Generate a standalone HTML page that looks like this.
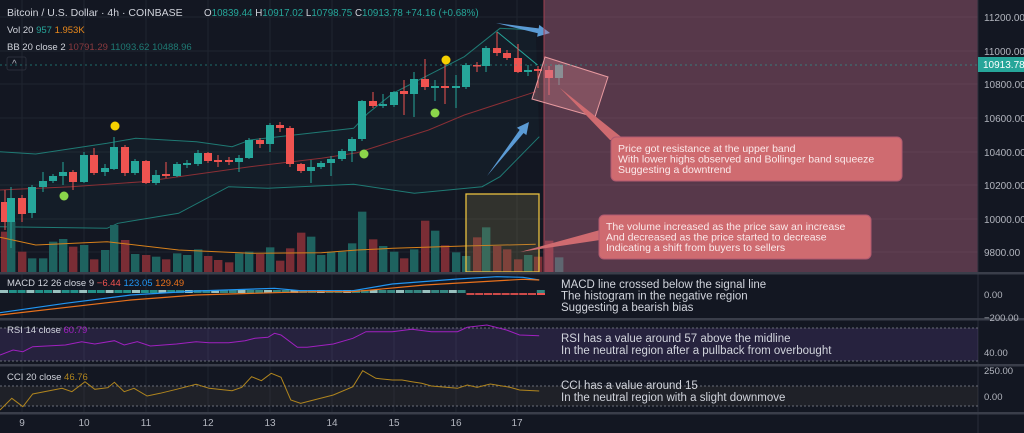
<!DOCTYPE html>
<html><head><meta charset="utf-8">
<style>
html,body{margin:0;padding:0;background:#131722;width:1024px;height:433px;overflow:hidden}
svg{display:block;font-family:"Liberation Sans",sans-serif}
</style></head><body>
<svg id="s" width="1024" height="433" xmlns="http://www.w3.org/2000/svg">
<rect width="1024" height="433" fill="#131722"/>
<g id="grid" stroke="#1f2430" stroke-width="1"></g>
<g id="bb" fill="none" stroke-width="1"></g>
<g id="vol"></g>
<g id="candles"></g>
<g id="low"></g>
</svg>
<script>
const S=document.getElementById('s');const NS='http://www.w3.org/2000/svg';
function el(t,a,p,txt){const e=document.createElementNS(NS,t);for(const k in a)e.setAttribute(k,a[k]);if(txt!==undefined)e.textContent=txt;(p||S).appendChild(e);return e;}
const G=document.getElementById('grid');
[17,51,84,118,152,185,219,252].forEach(y=>el('line',{x1:0,x2:978,y1:y,y2:y},G));
[22,84,146,208,270,332,394,456,517].forEach(x=>el('line',{x1:x,x2:x,y1:0,y2:412},G));
const B=document.getElementById('bb');
function pl(pts,fx,fy,oy,attrs,p){const d=pts.map((q,i)=>(i?'L':'M')+(q[0]/fx).toFixed(1)+' '+(q[1]/fy+oy).toFixed(1)).join(' ');const a=Object.assign({d:d,fill:'none'},attrs);return el('path',a,p);}
const up=[[0,455],[100,462],[300,430],[380,415],[550,425],[650,440],[700,420],[990,385],[1030,340],[1100,280],[1300,170],[1400,85],[1500,90]];
const lo=[[0,680],[300,685],[330,670],[500,640],[640,560],[750,565],[990,553],[1160,580],[1350,560],[1400,530],[1510,410]];
const fillPts=up.concat(lo.slice().reverse());
el('path',{d:fillPts.map((q,i)=>(i?'L':'M')+(q[0]/2.8)+' '+(q[1]/3)).join(' ')+'Z',fill:'rgba(38,166,154,0.05)'},B);
pl(up,2.8,3,0,{stroke:'#1f7a74'},B);pl(lo,2.8,3,0,{stroke:'#1f7a74'},B);
pl([[0,570],[200,560],[400,545],[700,500],[900,475],[1000,458],[1200,390],[1300,345],[1500,275]],2.8,3,0,{stroke:'#8a2f35'},B);
pl([[1392,95],[1505,195]],2.8,3,0,{stroke:'#26a69a'},B);
const C=[[5,202,222,190,230,0],[11,198,222,187,248,1],[22,198,214,195,222,0],[32,187,213,185,218,1],[43,181,187,172,192,1],[53,176,181,174,183,1],[63,172,176,162,185,1],[73,172,182,170,190,0],[84,155,182,152,183,1],[94,155,173,148,175,0],[105,168,172,164,176,1],[114,147,169,137,170,1],[125,147,173,145,176,0],[135,161,173,159,175,1],[146,161,183,160,184,0],[156,175,183,170,185,1],[166,174,176,162,178,0],[177,164,176,162,177,1],[187,163,165,160,168,1],[198,153,164,150,166,1],[208,153,161,152,163,0],[218,160,162,155,167,0],[229,160,162,157,165,0],[239,158,162,155,172,1],[249,140,158,138,159,1],[260,140,144,138,148,0],[270,125,144,123,152,1],[280,125,128,122,132,0],[290,128,164,126,167,0],[301,164,171,163,173,0],[311,167,171,160,183,1],[321,163,167,161,169,1],[331,159,163,156,176,1],[342,151,159,149,161,1],[352,139,151,137,162,1],[362,101,139,100,141,1],[373,101,106,92,108,0],[383,104,106,94,108,1],[394,92,105,91,107,1],[404,91,94,80,115,0],[414,79,94,72,117,1],[425,79,87,59,90,0],[435,86,88,80,101,1],[445,86,88,62,104,0],[456,86,88,75,108,1],[466,65,87,63,89,1],[477,65,66,62,72,0],[486,48,66,46,72,1],[497,48,53,32,56,0],[507,53,58,50,60,0],[518,58,72,44,73,0],[528,70,72,65,76,1],[538,69,71,66,88,0],[549,70,78,66,95,0],[559,65,78,64,85,1]];
const V=[695,665,755,775,775,725,717,740,735,778,750,675,720,762,765,770,778,760,765,748,768,780,787,760,755,762,742,782,745,698,710,765,755,755,730,635,718,738,755,775,748,662,692,736,757,768,712,682,738,748,778,765,770,722,772];
const VG=document.getElementById('vol'),CG=document.getElementById('candles');
C.forEach((c,i)=>{const col=c[5]?'#26a69a':'#ef5350';
 const vt=V[i]/3;el('rect',{x:c[0]-4,y:vt,width:8.4,height:272-vt,fill:c[5]?'#1e625f':'#7a2d35'},VG);
 el('line',{x1:c[0],x2:c[0],y1:c[3],y2:c[4],stroke:col,'stroke-width':1},CG);
 el('rect',{x:c[0]-4,y:c[1],width:8,height:Math.max(1.5,c[2]-c[1]),fill:col},CG);});
pl([[0,712],[100,735],[300,725],[500,750],[700,760],[900,758],[1000,750],[1100,745],[1300,738],[1500,733]],2.8,3,0,{stroke:'#d7811b'},VG);
[[115,126,'#f5d000'],[446,60,'#f5d000'],[64,196,'#8bd64a'],[364,154,'#8bd64a'],[435,113,'#8bd64a']].forEach(d=>el('circle',{cx:d[0],cy:d[1],r:4.5,fill:d[2]}));
el('rect',{x:466,y:194,width:73,height:78,fill:'rgba(140,130,80,0.25)',stroke:'#e8c040','stroke-width':1.3});
function arrow(x1,y1,x2,y2){const dx=x2-x1,dy=y2-y1,L=Math.hypot(dx,dy),ux=dx/L,uy=dy/L,nx=-uy,ny=ux;const hx=x2-ux*12,hy=y2-uy*12;
 el('path',{d:`M${x1} ${y1} L${hx+nx*2.5} ${hy+ny*2.5} L${hx+nx*6} ${hy+ny*6} L${x2} ${y2} L${hx-nx*6} ${hy-ny*6} L${hx-nx*2.5} ${hy-ny*2.5} Z`,fill:'#5b9bd5'});}
arrow(496,23,550,33);arrow(487,176,529,122);
el('rect',{x:544,y:0,width:434,height:272,fill:'rgba(200,110,140,0.38)'});
el('line',{x1:544,x2:544,y1:0,y2:272,stroke:'#a04050','stroke-width':1});
el('polygon',{points:'545,57 608,77 595,117 532,99',fill:'rgba(230,140,150,0.3)',stroke:'#e89aa0'});
el('polygon',{points:'560,88 610,140 625,140',fill:'#cf6b70'});
el('rect',{x:611,y:137,width:291,height:44,rx:5,fill:'#cf6b70',stroke:'#b05a70'});
el('polygon',{points:'520,252 600,230 600,240',fill:'#cf6b70'});
el('rect',{x:599,y:215,width:272,height:44,rx:5,fill:'#cf6b70',stroke:'#b05a70'});
function T(x,y,s,c,t,fs,extra){const a=Object.assign({x:x,y:y,fill:c,'font-size':fs||11},extra||{});return el('text',a,S,t);}
['Price got resistance at the upper band','With lower highs observed and Bollinger band squeeze','Suggesting a downtrend'].forEach((t,i)=>T(618,152+i*10.5,0,'#fbe9ea',t,10.5));
['The volume increased as the price saw an increase','And decreased as the price started to decrease','Indicating a shift from buyers to sellers'].forEach((t,i)=>T(606,230+i*10.5,0,'#fbe9ea',t,10.5));
el('line',{x1:978,x2:978,y1:0,y2:433,stroke:'#2a2e39'});
[[11200,17],[11000,51],[10800,84],[10600,118],[10400,152],[10200,185],[10000,219],[9800,252]].forEach(p=>T(984,p[1]+4,0,'#b2b5be',p[0].toFixed(2),10));
el('line',{x1:0,x2:978,y1:65,y2:65,stroke:'#26a69a','stroke-dasharray':'2 3','stroke-opacity':0.6});
el('rect',{x:978,y:57,width:46,height:15,fill:'#26a69a'});T(983,68,0,'#fff','10913.78',10);
T(7,16,0,'#d1d4dc','Bitcoin / U.S. Dollar · 4h · COINBASE',10.5);
const h=el('text',{x:204,y:16,'font-size':9.8,fill:'#26a69a'});h.innerHTML='<tspan fill="#d1d4dc">O</tspan>10839.44 <tspan fill="#d1d4dc">H</tspan>10917.02 <tspan fill="#d1d4dc">L</tspan>10798.75 <tspan fill="#d1d4dc">C</tspan>10913.78 +74.16 (+0.68%)';
const v=el('text',{x:7,y:33,'font-size':9.5,fill:'#d1d4dc'});v.innerHTML='Vol 20 <tspan fill="#26a69a">957</tspan> <tspan fill="#e8881c">1.953K</tspan>';
const bb=el('text',{x:7,y:50,'font-size':9.5,fill:'#d1d4dc'});bb.innerHTML='BB 20 close 2 <tspan fill="#8a3a3f">10791.29</tspan> <tspan fill="#1f7a74">11093.62</tspan> <tspan fill="#1f7a74">10488.96</tspan>';
el('rect',{x:7,y:57,width:19,height:13,rx:2,fill:'none',stroke:'#2a2e39'});T(12,67,0,'#b2b5be','^',10);
[[273],[319],[365],[413]].forEach(p=>el('rect',{x:0,y:p[0]-1,width:1024,height:2.5,fill:'#3a3e4a'}));
for(let i=0;i<62;i++){const x=i*8.8;if(x>=540)break;let col=i%3==0?'#b2dfdb':(i<20?'#26a69a':'#3c9a92');let neg=(x>465&&x<530);
 el('rect',{x:x,y:neg?293:290,width:8,height:neg?2:3,fill:neg?'#ef5350':col,'fill-opacity':0.85});}
el('rect',{x:537,y:293,width:8,height:2,fill:'#ef5350'});
pl([[0,128],[100,100],[200,75],[300,63],[420,55],[460,62],[540,62],[600,42],[700,27],[760,20],[800,22],[825,30]],1.53,3,270,{stroke:'#2196f3','stroke-width':1.2});
pl([[0,135],[200,90],[300,75],[420,68],[480,65],[540,65],[650,45],[800,28],[825,30]],1.53,3,270,{stroke:'#e8711c','stroke-width':1.2});
const m=el('text',{x:7,y:286,'font-size':9.5,fill:'#d1d4dc'});m.innerHTML='MACD 12 26 close 9 <tspan fill="#ef5350">−6.44</tspan> <tspan fill="#2196f3">123.05</tspan> <tspan fill="#e8711c">129.49</tspan>';
['MACD line crossed below the signal line','The histogram in the negative region','Suggesting a bearish bias'].forEach((t,i)=>T(561,288+i*11.5,0,'#d1d4dc',t,11.5));
T(984,298,0,'#b2b5be','0.00',9.5);T(984,321,0,'#b2b5be','−200.00',9.5);
el('rect',{x:0,y:328,width:978,height:33,fill:'rgba(126,87,194,0.18)'});
[328,361].forEach(y=>el('line',{x1:0,x2:978,y1:y,y2:y,stroke:'#6a6d78','stroke-dasharray':'2 2'}));
pl([[0,255],[20,240],[35,245],[50,230],[100,225],[125,215],[145,222],[175,212],[190,225],[210,215],[230,228],[270,222],[300,215],[320,218],[350,218],[375,212],[390,205],[410,202],[420,190],[430,195],[455,232],[470,232],[510,222],[540,205],[560,185],[600,185],[630,178],[660,185],[700,185],[715,172],[745,165],[775,180],[795,195],[825,197]],1.53,3,270,{stroke:'#a020c0','stroke-width':1});
const r=el('text',{x:7,y:333,'font-size':9.5,fill:'#d1d4dc'});r.innerHTML='RSI 14 close <tspan fill="#a020c0">60.79</tspan>';
T(561,342,0,'#d1d4dc','RSI has a value around 57 above the midline',11.5);T(561,354,0,'#d1d4dc','In the neutral region after a pullback from overbought',11.5);
T(984,356,0,'#b2b5be','40.00',9.5);
el('rect',{x:0,y:386,width:978,height:20,fill:'rgba(120,110,90,0.12)'});
[386,406].forEach(y=>el('line',{x1:0,x2:978,y1:y,y2:y,stroke:'#6a6d78','stroke-dasharray':'2 2'}));
pl([[0,420],[18,385],[35,410],[50,372],[95,355],[110,365],[130,335],[145,358],[165,353],[175,337],[190,365],[205,355],[225,378],[245,370],[270,358],[300,343],[320,355],[355,362],[370,352],[385,320],[400,332],[415,310],[430,322],[445,390],[460,400],[480,390],[510,375],[540,350],[555,302],[575,325],[600,330],[615,330],[630,335],[645,340],[660,348],[700,355],[715,345],[730,352],[750,342],[780,352],[795,360],[825,363]],1.53,3,270,{stroke:'#b0851e','stroke-width':1});
const c2=el('text',{x:7,y:380,'font-size':9.5,fill:'#d1d4dc'});c2.innerHTML='CCI 20 close <tspan fill="#b0851e">46.76</tspan>';
T(561,389,0,'#d1d4dc','CCI has a value around 15',11.5);T(561,401,0,'#d1d4dc','In the neutral region with a slight downmove',11.5);
T(984,374,0,'#b2b5be','250.00',9.5);T(984,400,0,'#b2b5be','0.00',9.5);
[[22,'9'],[84,'10'],[146,'11'],[208,'12'],[270,'13'],[332,'14'],[394,'15'],[456,'16'],[517,'17']].forEach(d=>T(d[0],426,0,'#b2b5be',d[1],10,{'text-anchor':'middle'}));
</script>
</body></html>
